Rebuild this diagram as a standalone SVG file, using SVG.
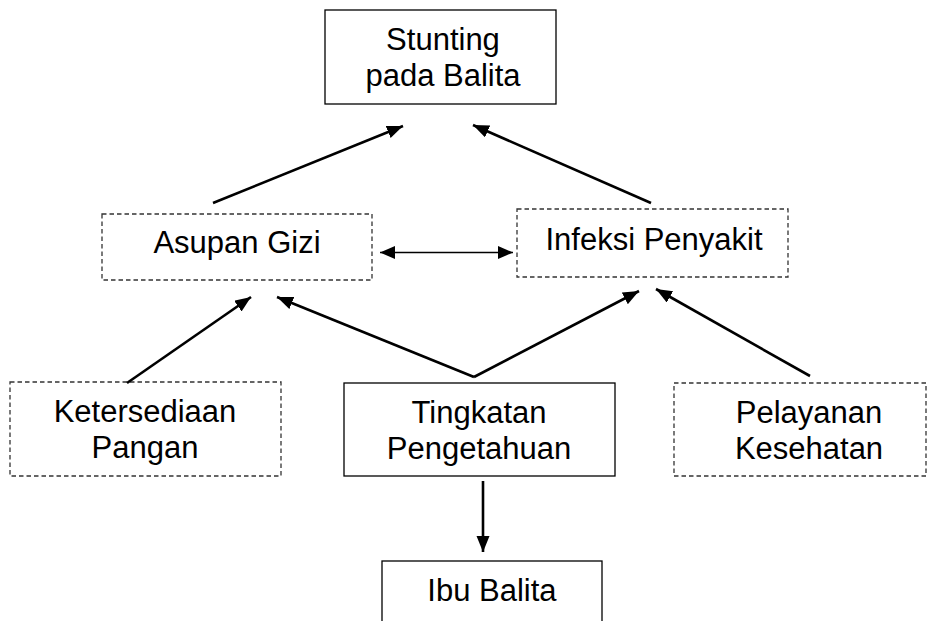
<svg xmlns="http://www.w3.org/2000/svg" width="937" height="621" viewBox="0 0 937 621">
<style>
.box{fill:#fff;stroke:#000;stroke-width:1.3}
.dbox{fill:#fff;stroke:#333;stroke-width:1.3;stroke-dasharray:4.5 3}
.t{font-family:"Liberation Sans",Arial,sans-serif;font-size:31px;fill:#000;text-anchor:middle}
.c{stroke:#000;stroke-width:2.6;fill:none;marker-end:url(#ah)}
.d{stroke:#000;stroke-width:1.6;fill:none;marker-end:url(#ah2);marker-start:url(#ah2s)}
</style>
<defs>
<marker id="ah" markerUnits="userSpaceOnUse" markerWidth="18" markerHeight="14" refX="16" refY="6.5" orient="auto"><path d="M0,0 L16,6.5 L0,13 z" fill="#000"/></marker>
<marker id="ah2" markerUnits="userSpaceOnUse" markerWidth="18" markerHeight="14" refX="15" refY="6.5" orient="auto"><path d="M0,0 L15,6.5 L0,13 z" fill="#000"/></marker>
<marker id="ah2s" markerUnits="userSpaceOnUse" markerWidth="18" markerHeight="14" refX="0" refY="6.5" orient="auto"><path d="M15,0 L0,6.5 L15,13 z" fill="#000"/></marker>
</defs>
<rect width="937" height="621" fill="#fff"/>
<g id="stunting"><rect class="box" x="325" y="10" width="231" height="94"/><text class="t" x="443" y="50">Stunting</text><text class="t" x="443" y="86">pada Balita</text></g>
<g id="asupan"><rect class="dbox" x="102" y="214" width="270" height="66"/><text class="t" x="237" y="253">Asupan Gizi</text></g>
<g id="infeksi"><rect class="dbox" x="517" y="209" width="271" height="68"/><text class="t" x="654" y="250">Infeksi Penyakit</text></g>
<g id="ketersediaan"><rect class="dbox" x="10" y="382" width="271" height="94"/><text class="t" x="145" y="422">Ketersediaan</text><text class="t" x="145" y="458">Pangan</text></g>
<g id="tingkatan"><rect class="box" x="344" y="383" width="271" height="93"/><text class="t" x="479" y="423">Tingkatan</text><text class="t" x="479" y="459">Pengetahuan</text></g>
<g id="pelayanan"><rect class="dbox" x="674" y="383" width="252" height="93"/><text class="t" x="809" y="423">Pelayanan</text><text class="t" x="809" y="459">Kesehatan</text></g>
<g id="ibu"><rect class="box" x="382" y="561" width="220" height="80"/><text class="t" x="492" y="601">Ibu Balita</text></g>
<g id="connectors">
<line class="c" x1="213" y1="203" x2="403" y2="126"/>
<line class="c" x1="651" y1="203" x2="473" y2="125"/>
<line class="d" x1="380" y1="252.5" x2="513" y2="252.5"/>
<line class="c" x1="127" y1="383" x2="251" y2="297"/>
<line class="c" x1="474" y1="377" x2="277" y2="297"/>
<line class="c" x1="474" y1="377" x2="639" y2="291"/>
<line class="c" x1="810" y1="376" x2="656" y2="289"/>
<line class="c" x1="483" y1="481" x2="483" y2="552"/>
</g>
</svg>
